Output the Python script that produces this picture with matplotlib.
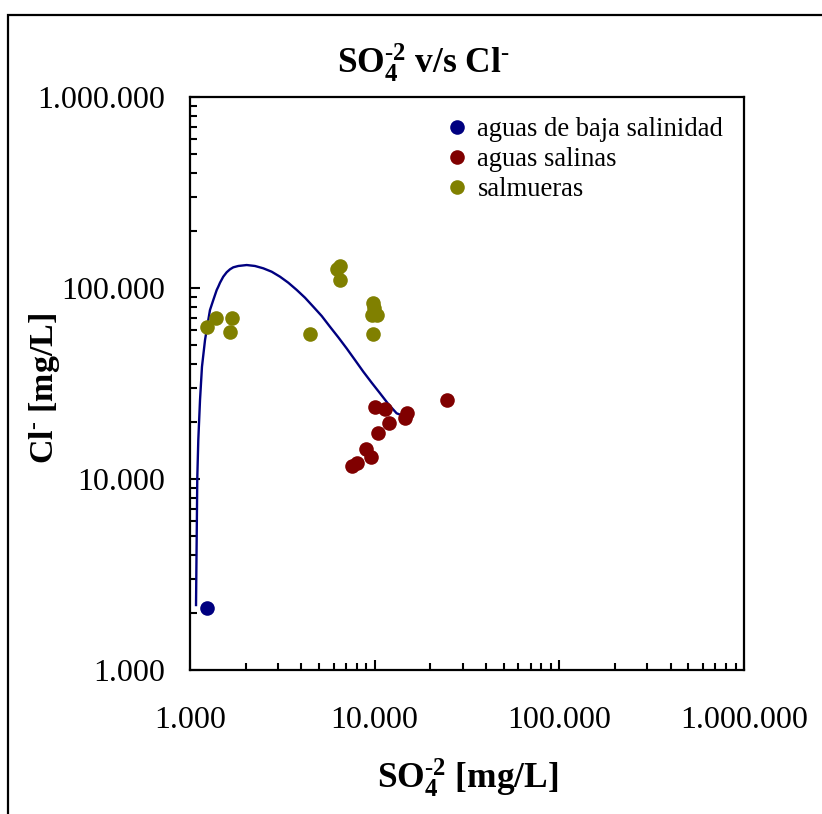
import matplotlib
matplotlib.use("Agg")
import matplotlib.pyplot as plt
from matplotlib.ticker import LogLocator, FuncFormatter, NullFormatter
from matplotlib.patches import Rectangle

plt.rcParams['font.family'] = ['Liberation Serif', 'DejaVu Serif']
plt.rcParams['mathtext.fontset'] = 'custom'
plt.rcParams['mathtext.rm'] = 'Liberation Serif'
plt.rcParams['mathtext.bf'] = 'Liberation Serif:bold'
plt.rcParams['mathtext.it'] = 'Liberation Serif:italic'

# datos (mg/L)
baja_so4 = [1236]
baja_cl = [2113]

salinas_so4 = [10070, 11320, 11950, 10380, 14900, 14650, 24720, 8975, 9510, 7990, 7505]
salinas_cl = [23920, 23240, 19580, 17470, 22080, 20790, 25920, 14420, 13090, 12170, 11700]

salmueras_so4 = [1231, 1383, 1694, 1652, 4446, 6225, 6513, 6486, 9750, 9950, 9670, 10250, 9750]
salmueras_cl = [62230, 69660, 69660, 58850, 57240, 126200, 130300, 109700, 83150, 78300, 71950, 71950, 57240]

# linea de mezcla (leida punto a punto del original)
curva_so4 = [1078, 1095, 1109, 1133, 1161, 1206, 1256, 1283, 1337, 1395, 1423, 1454, 1514,
             1580, 1647, 1715, 1826, 2028, 2248, 2493, 2769, 3072, 3406, 3783, 4195, 4652,
             5166, 5727, 6354, 7050, 7823, 8675, 9634, 10690, 11850, 13150, 14650]
curva_cl = [2188, 10090, 16000, 25920, 38700, 53400, 67960, 76700, 86500, 97600, 101600, 106600, 114600,
            120900, 125300, 128300, 130400, 131900, 130400, 126800, 121700, 114600, 106600, 97700, 88960, 79800,
            71370, 62700, 55190, 48300, 41980, 36480, 31930, 28100, 24700, 22080, 21200]

W, H = 822, 814
fig = plt.figure(figsize=(W / 100, H / 100), dpi=100)
ax = fig.add_axes([190 / W, 1 - 670 / H, 554 / W, 573 / H])

ax.plot(curva_so4, curva_cl, color='#000080', lw=1.7, zorder=2, solid_joinstyle='round')
ax.plot(baja_so4, baja_cl, 'o', color='#000080', ms=10.5, mec='none', label='aguas de baja salinidad', zorder=3)
ax.plot(salinas_so4, salinas_cl, 'o', color='#800000', ms=10.5, mec='none', label='aguas salinas', zorder=3)
ax.plot(salmueras_so4, salmueras_cl, 'o', color='#808000', ms=10.5, mec='none', label='salmueras', zorder=3)

ax.set_xscale('log')
ax.set_yscale('log')
ax.set_xlim(1000, 1e6)
ax.set_ylim(1000, 1e6)

fmt = FuncFormatter(lambda v, p: f"{int(round(v)):,}".replace(",", "."))
for a in (ax.xaxis, ax.yaxis):
    a.set_major_locator(LogLocator(base=10))
    a.set_minor_locator(LogLocator(base=10, subs=range(2, 10)))
    a.set_major_formatter(fmt)
    a.set_minor_formatter(NullFormatter())

ax.tick_params(which='both', direction='in', top=False, right=False, width=1.5)
ax.tick_params(which='major', length=7)
ax.tick_params(which='minor', length=5)
ax.tick_params(axis='y', which='major', labelsize=23, pad=18)
ax.tick_params(axis='x', which='major', labelsize=23, pad=26)
for s in ax.spines.values():
    s.set_linewidth(1.6)

leg = ax.legend(loc='upper left', bbox_to_anchor=(0.449, 0.984), frameon=False, fontsize=19.2,
                handlelength=0.6, handletextpad=0.45, labelspacing=0.19, borderaxespad=0,
                markerscale=1.0)

fig.text(423 / W, 1 - 63 / H, r'$\mathbf{SO_4^{\text{-}2}}$ v/s Cl$^{\mathbf{\text{-}}}$', fontsize=25.5,
         fontweight='bold', ha='center', va='center')
fig.text(468 / W, 1 - 778 / H, r'$\mathbf{SO_4^{\text{-}2}}$ [mg/L]', fontsize=25.5,
         fontweight='bold', ha='center', va='center')
fig.text(45 / W, 1 - 388 / H, r'Cl$^{\mathbf{\text{-}}}$ [mg/L]', fontsize=24.5,
         fontweight='bold', ha='center', va='center', rotation=90)

fig.add_artist(Rectangle((8 / W, -0.1), 2, 1 - 15 / H + 0.1, transform=fig.transFigure,
                         fill=False, lw=1.6, color='black'))

fig.savefig('out.png', dpi=100)
